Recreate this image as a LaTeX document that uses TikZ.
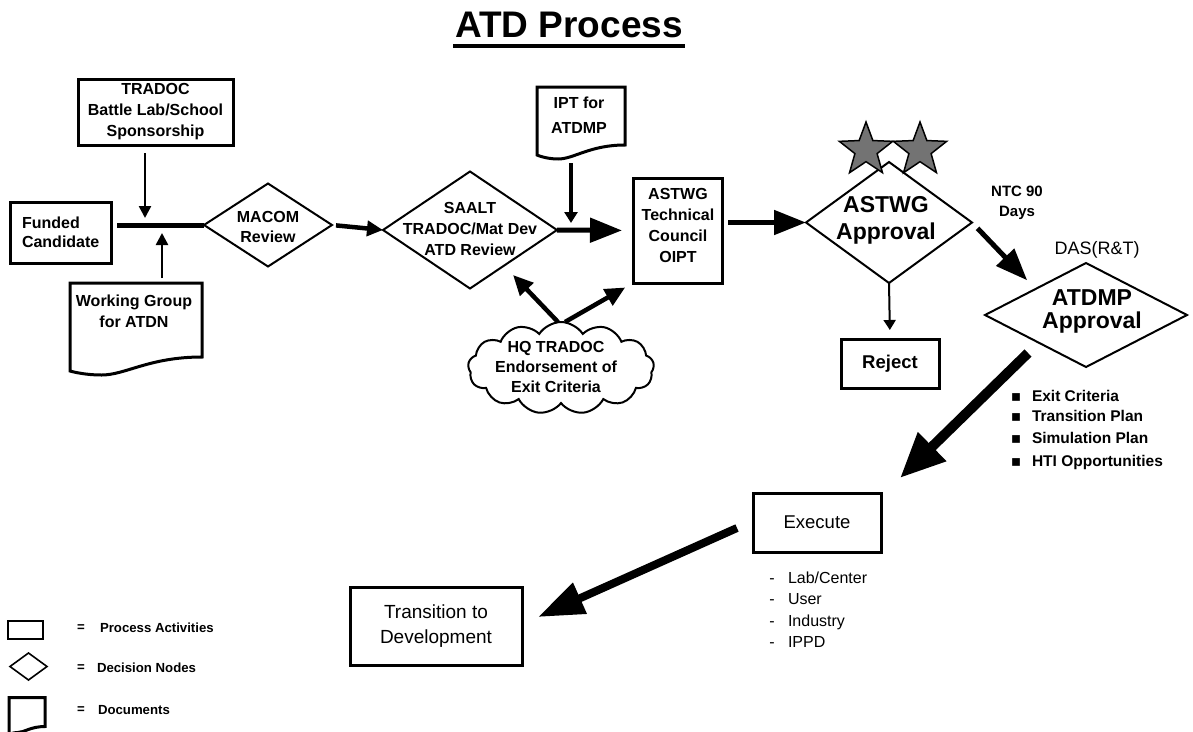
\documentclass[tikz,border=0pt]{standalone}
\usepackage{fontspec}
\setmainfont{Liberation Sans}
\newfontfamily\symfont{DejaVu Sans}
\usetikzlibrary{arrows.meta,shapes.geometric,shapes.symbols,calc}
\tikzset{
  every node/.style={inner sep=0pt, outer sep=0pt},
  box/.style={draw, rectangle, line width=3pt},
  dia/.style={draw, diamond, line width=2pt},
  doc/.style={rectangle},
  docline/.style={line width=3pt, line join=miter},
  sm/.style={font=\fontsize{16}{21}\selectfont\bfseries, align=center},
  big/.style={font=\fontsize{23}{27}\selectfont\bfseries, align=center},
  lstb/.style={font=\fontsize{15.5}{20}\selectfont\bfseries},
  lstr/.style={font=\fontsize{16}{20}\selectfont},
  leg/.style={font=\fontsize{13.2}{16}\selectfont\bfseries, anchor=west},
  thinarr/.style={line width=2.5pt, -{Triangle[length=12pt,width=12pt]}},
  iptarr/.style={line width=3.5pt, -{Triangle[length=11pt,width=13pt]}},
  medarr/.style={line width=4.5pt, -{Triangle[length=16pt,width=15pt]}},
  cloudarr/.style={line width=4.5pt, -{Triangle[length=20pt,width=18pt]}},
  heavyarr/.style={line width=5pt, -{Triangle[length=32pt,width=24pt]}},
  hugearr/.style={line width=10pt, -{Triangle[length=45pt,width=38pt]}},
  longarr/.style={line width=8pt, -{Triangle[length=46pt,width=32pt]}},
  starsty/.style={draw, star, star points=5, star point ratio=2.4, minimum size=56pt, line width=1.5pt, fill=black!55},
}
\newcommand\docoutline[3]{%
  \draw[docline] ($(#1.south west)+(0,#2)$) -- (#1.north west) -- (#1.north east) -- (#1.south east)
   .. controls ($(#1.south west)!0.6!(#1.south east)$) and ($(#1.south west)!0.42!(#1.south east)+(0,#3)$)
   .. ($(#1.south west)!0.24!(#1.south east)+(0,#3)$)
   .. controls ($(#1.south west)!0.1!(#1.south east)+(0,#3)$) and ($(#1.south west)+(0,#2)$)
   .. ($(#1.south west)+(0,#2)$) -- cycle;}
\begin{document}
\begin{tikzpicture}[x=1pt,y=-1pt]
\fill[white] (0,0) rectangle (1193,731);
\useasboundingbox (0,0) rectangle (1193,731);

% title
\node[font=\fontsize{37}{40}\selectfont\bfseries, anchor=base] (title) at (569,37) {ATD Process};
\draw[line width=3.5pt] ([yshift=-9pt,xshift=-2pt]title.base west) -- ([yshift=-9pt,xshift=2pt]title.base east);

% left part
\node[box, minimum width=155pt, minimum height=66pt, sm] (tradoc) at (155.5,112) {TRADOC\\Battle Lab/School\\Sponsorship};
\node[box, minimum width=101pt, minimum height=61pt] (funded) at (60.5,232.5) {};
\node[sm, align=left, anchor=west, font=\fontsize{16}{19}\selectfont\bfseries] (fundedtxt) at (22,232) {Funded\\Candidate};
\node[doc, minimum width=132pt, minimum height=74pt] (wg) at (136,320) {};
\docoutline{wg}{14}{18}
\node[sm] (wgtxt) at (134,311) {Working Group\\for ATDN};

\coordinate (barL) at (117,225);
\coordinate (bartop) at (145,218);
\coordinate (barbot) at (162,233);

\node[dia, minimum width=128pt, minimum height=83pt] (macom) at (268,225) {};
\node[sm, font=\fontsize{16}{20}\selectfont\bfseries] (macomtxt) at (268,227) {MACOM\\Review};

\draw[line width=5pt] (barL) -- (macom.west);
\draw[thinarr, shorten <=8pt] (tradoc.south -| bartop) -- (bartop);
\draw[thinarr, shorten <=5pt] (wg.north -| barbot) -- (barbot);

% SAALT
\node[dia, minimum width=174pt, minimum height=117pt] (saalt) at (470,230) {};
\node[sm] (saalttxt) at (470,229) {SAALT\\TRADOC/Mat Dev\\ATD Review};
\draw[medarr, shorten <=4pt] (macom.east) -- (saalt.west);

% IPT doc
\node[doc, minimum width=88pt, minimum height=58pt] (ipt) at (581,116) {};
\docoutline{ipt}{10}{14}
\node[sm, font=\fontsize{16}{25}\selectfont\bfseries] (ipttxt) at (579,115) {IPT for\\ATDMP};
\coordinate (iptend) at (571,223);

% ASTWG box
\node[box, minimum width=89pt, minimum height=105pt] (astwgbox) at (677.5,230.5) {};
\node[sm] (astwgboxtxt) at (678,225) {ASTWG\\Technical\\Council\\OIPT};
\draw[heavyarr, shorten >=11pt] (saalt.east) -- (astwgbox.west);
\path (ipt.south -| iptend) ++(0,18) coordinate (iptstart);
\draw[iptarr] (iptstart) -- (iptend);

% cloud
\node[draw, cloud, cloud puffs=13, cloud puff arc=115, aspect=2, minimum width=186pt, minimum height=92pt, line width=2pt] (hq) at (561,368) {};
\node[sm, font=\fontsize{16}{20}\selectfont\bfseries] (hqtxt) at (556,367) {HQ TRADOC\\Endorsement of\\Exit Criteria};
\draw[cloudarr, shorten >=13pt] ($(hq.north)+(-3,0)$) -- (saalt);
\draw[cloudarr, shorten >=9pt] ($(hq.north)+(4,0)$) -- (astwgbox.south west);

% ASTWG approval
\node[dia, minimum width=166pt, minimum height=121pt] (astwgdia) at (889,222.5) {};
\node[starsty] (star1) at (866,150) {};
\node[starsty] (star2) at (920,150) {};
\node[big] (astwgdiatxt) at (886,220) {ASTWG\\Approval};
\draw[heavyarr, shorten <=6pt] (astwgbox.east |- astwgdia.west) -- (astwgdia.west);

\node[box, minimum width=98pt, minimum height=49pt, font=\fontsize{18.5}{22}\selectfont\bfseries] (reject) at (890,363.5) {Reject};
\draw[line width=2pt, -{Triangle[length=10pt,width=12pt]}, shorten >=9pt] (astwgdia.south) -- (reject.north);

\node[sm, font=\fontsize{15}{20}\selectfont\bfseries] (ntc) at (1017,203) {NTC 90\\Days};
\node[font=\fontsize{18}{22}\selectfont] (das) at (1097,250) {DAS(R\&T)};

% ATDMP approval
\node[dia, minimum width=202pt, minimum height=104pt] (atdmp) at (1086,315) {};
\node[big, font=\fontsize{23}{23}\selectfont\bfseries] (atdmptxt) at (1092,311) {ATDMP\\Approval};
\draw[heavyarr, shorten <=8pt, shorten >=12pt] (astwgdia.east) -- (atdmp.north west);

\foreach \yy/\t [count=\i] in {401/{Exit Criteria}, 421/{Transition Plan}, 443/{Simulation Plan}, 466/{HTI Opportunities}} {
  \node[lstb, anchor=base] (abul\i) at (1016,\yy) {\symfont ▪};
  \node[lstb, anchor=base west] (alst\i) at (1032,\yy) {\t};
}

% Execute
\node[box, minimum width=128pt, minimum height=59pt, font=\fontsize{18.5}{22}\selectfont] (execute) at (817,522.5) {Execute};
\draw[hugearr] ($(atdmp)+(-58,38)$) -- ($(execute.north east)+(19,-15)$);
\foreach \yy/\t [count=\i] in {583/{Lab/Center}, 604/{User}, 626/{Industry}, 647/{IPPD}} {
  \node[lstr, anchor=base] (ebul\i) at (772,\yy) {-};
  \node[lstr, anchor=base west] (elst\i) at (788,\yy) {\t};
}

% Transition
\node[box, minimum width=172pt, minimum height=78pt, font=\fontsize{19}{25}\selectfont, align=center] (trans) at (436,626) {Transition to\\Development};
\draw[longarr] ($(execute.west)+(-16,5.5)$) -- ($(trans.east)+(16,-9)$);

% legend
\node[box, minimum width=35pt, minimum height=18pt, line width=2.6pt] (legrect) at (25.5,630) {};
\node[leg] (legeq1) at (77,628) {=};
\node[leg] (legt1) at (100,628) {Process Activities};
\node[dia, minimum width=37pt, minimum height=27pt, line width=1.6pt] (legdia) at (28.5,666.5) {};
\node[leg] (legeq2) at (77,668) {=};
\node[leg] (legt2) at (97,668) {Decision Nodes};
\node[doc, minimum width=36pt, minimum height=29pt] (legdoc) at (27,712) {};
\docoutline{legdoc}{8}{6}
\node[leg] (legeq3) at (77,710) {=};
\node[leg] (legt3) at (98,710) {Documents};
\end{tikzpicture}
\end{document}
